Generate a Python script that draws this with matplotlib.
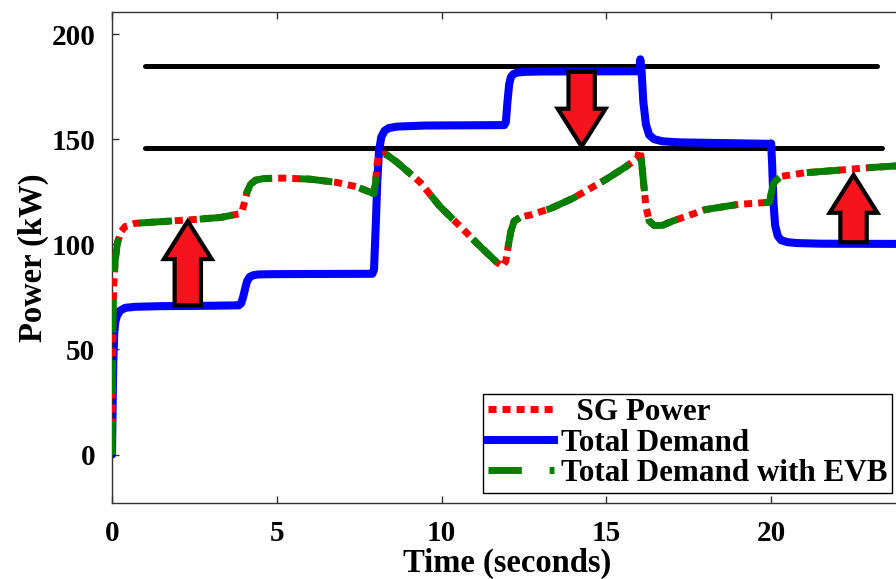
import matplotlib
matplotlib.use("Agg")
import matplotlib.pyplot as plt
import matplotlib.lines as mlines

plt.rcParams["font.family"] = ["Liberation Serif", "DejaVu Serif"]
plt.rcParams["font.weight"] = "bold"
plt.rcParams["axes.labelweight"] = "bold"
plt.rcParams["lines.scale_dashes"] = False

# total load demand (kW) over time (s)
demand_t = [0, 0.02, 0.04, 0.07, 0.1, 0.15, 0.25, 0.4, 0.7, 1.5, 3.0, 3.85,
            3.92, 3.98, 4.04, 4.1, 4.18, 4.28, 4.45, 4.8, 6.0, 7.9,
            7.95, 8.0, 8.05, 8.1, 8.17, 8.27, 8.4, 8.65, 9.5, 11.9,
            11.95, 12.0, 12.05, 12.1, 12.18, 12.3, 12.5, 13.0, 15.95,
            16.0, 16.03, 16.07, 16.12, 16.2, 16.3, 16.45, 16.7, 17.2, 19.95,
            20.0, 20.03, 20.07, 20.12, 20.2, 20.3, 20.5, 20.8, 21.5, 24.0]
demand_kw = [0, 25, 45, 58, 63, 66, 68.5, 69.8, 70.3, 70.6, 70.8, 71,
             72, 75, 79, 82.5, 84.5, 85.3, 85.7, 85.8, 85.9, 86,
             88, 108, 130, 144, 151, 154, 155.3, 156, 156.5, 156.7,
             158, 168, 176, 179.5, 181, 181.7, 182, 182.2, 182.3,
             183, 188, 182, 168, 157, 152, 150, 149, 148.5, 147.8,
             148, 138, 120, 109, 104, 102, 101, 100.6, 100.3, 100.2]

# synchronous generator output, identical to demand seen with the EV battery
sg_t = [0, 0.01, 0.025, 0.05, 0.1, 0.17, 0.27, 0.4, 0.7, 1.5, 2.5, 3.3,
        3.85, 3.95, 4.02, 4.1, 4.2, 4.35, 4.6, 5.2, 6.0, 6.8, 7.4, 7.8,
        7.95, 8.0, 8.04, 8.1, 8.3, 8.65, 9.35, 9.95, 10.56, 11.17, 11.68,
        11.85, 11.95, 12.02, 12.1, 12.2, 12.4, 12.7, 13.3, 14.0, 15.0,
        15.6, 15.95, 16.0, 16.05, 16.1, 16.2, 16.3, 16.45, 16.7, 17.0,
        18.0, 19.0, 19.95, 20.0, 20.05, 20.12, 20.3, 21.0, 22.0, 23.0, 24.0]
sg_kw = [0, 30, 60, 80, 93, 101, 106, 108.5, 110, 110.8, 111.8, 112.8,
         114.5, 116, 120, 125, 128.5, 130.5, 131.3, 131.5, 131, 129.5, 127.5, 125,
         124, 130, 138, 142, 143, 139, 129.5, 118, 108.6, 99, 91.4,
         89.5, 92, 99, 106, 111, 113, 114, 117, 122, 131,
         137, 141, 145, 142, 134, 118, 111, 109, 109, 111,
         116.5, 119, 120, 124, 128, 130, 132.3, 134, 135.2, 136.5, 137.5]
evb_t = sg_t
evb_kw = sg_kw

# upper / lower power limits
limit_kw = [185, 146]
limit_start = [1.0, 1.0]
limit_end = [23.2, 23.35]

# arrows: x position, tail, tip
arrow_x = [2.3, 14.25, 22.5]
arrow_from = [71, 182, 101]
arrow_to = [111, 146.5, 133]

fig = plt.figure(figsize=(8.96, 5.79), dpi=100)
ax = fig.add_axes([0.125, 0.1313, 0.8828, 0.848])

for y, x0, x1 in zip(limit_kw, limit_start, limit_end):
    ax.plot([x0, x1], [y, y], color="black", lw=3.6, zorder=1.5,
            solid_capstyle="round")

ax.plot(demand_t, demand_kw, color="#0000ff", lw=5.8, zorder=2,
        solid_capstyle="round", solid_joinstyle="round")
sg_line, = ax.plot(sg_t, sg_kw, color="#ff0000", lw=5, zorder=3,
                   dash_capstyle="butt")
sg_line.set_dashes((5.8, 4.3))
evb_line, = ax.plot(evb_t, evb_kw, color="#008000", lw=5, zorder=4,
                    dash_capstyle="butt")
evb_line.set_dashes((24, 20))

for x, y0, y1 in zip(arrow_x, arrow_from, arrow_to):
    ax.arrow(x, y0, 0, y1 - y0, width=0.8, head_width=1.45, head_length=18,
             length_includes_head=True, facecolor="#f5141e", edgecolor="black",
             linewidth=3, zorder=6)

# legend proxies in the same order as the plotted lines
h_sg = mlines.Line2D([], [], color="#ff0000", lw=5, dashes=(5.8, 4.3))
h_dem = mlines.Line2D([], [], color="#0000ff", lw=5.8)
h_evb = mlines.Line2D([], [], color="#008000", lw=5, dashes=(24, 20))
leg = ax.legend([h_sg, h_dem, h_evb],
                ["  SG Power", "Total Demand", "Total Demand with EVB"],
                loc="lower left", bbox_to_anchor=(0.539, 0.1485),
                bbox_transform=fig.transFigure, fontsize=22.4,
                handlelength=2.15, handletextpad=0.2, borderpad=0.15,
                labelspacing=0.05, borderaxespad=0, fancybox=False,
                framealpha=1)
leg.get_frame().set_edgecolor("black")
leg.get_frame().set_linewidth(1.0)
leg.set_zorder(10)

ax.set_xlim(0, 24)
ax.set_ylim(-23, 210.5)
ax.set_xticks([0, 5, 10, 15, 20])
ax.set_yticks([0, 50, 100, 150, 200])
ax.tick_params(direction="in", length=5, width=1, colors="#333333",
               labelcolor="black", labelsize=21, top=True, right=True)
ax.tick_params(axis="x", pad=12)
ax.tick_params(axis="y", pad=12)
for s in ax.spines.values():
    s.set_linewidth(1.0)
    s.set_color("#333333")

ax.set_xlabel("Time (seconds)", fontsize=23.5, labelpad=1)
ax.set_ylabel("Power (kW)", fontsize=23.5, labelpad=2)

fig.savefig("out.png", dpi=100)
